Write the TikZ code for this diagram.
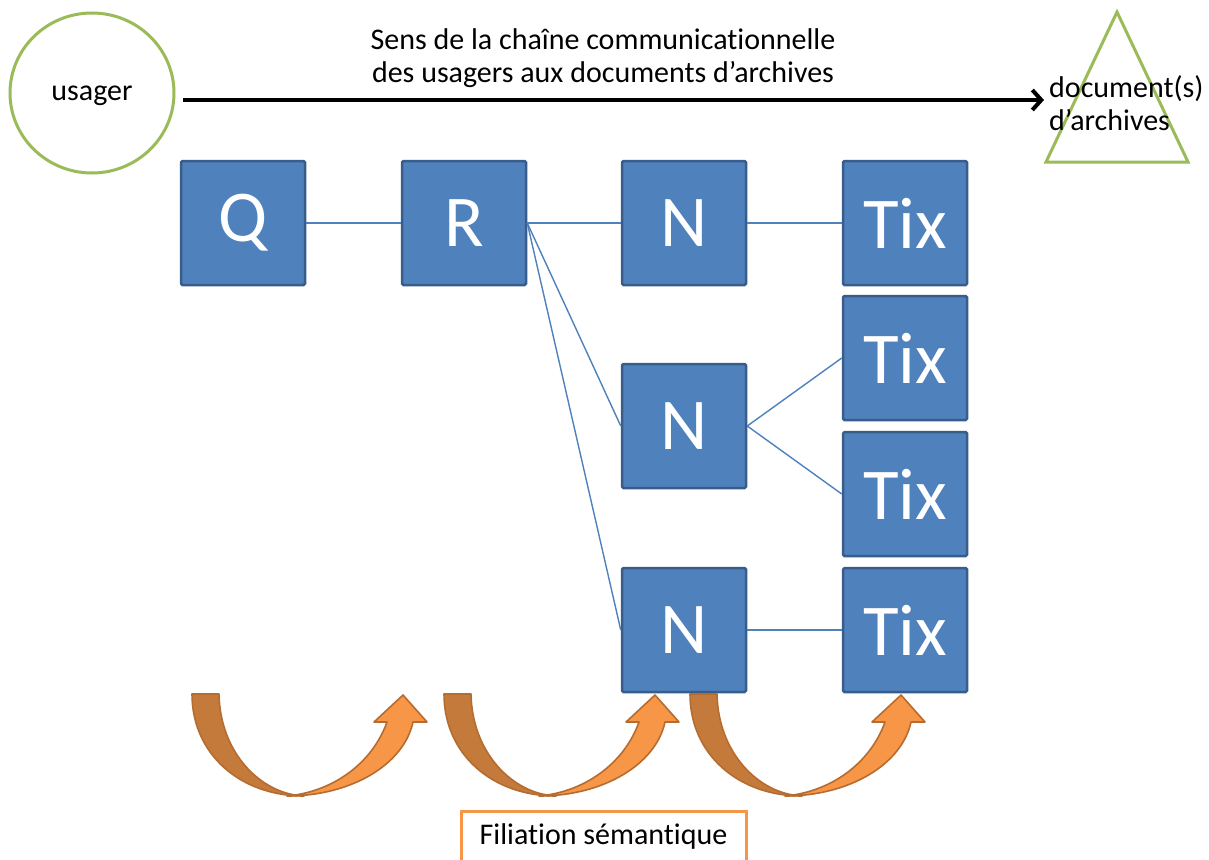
\documentclass[tikz,border=0pt]{standalone}
\usepackage{fontspec}
\setmainfont{Carlito}[Ligatures=NoCommon]
\usetikzlibrary{arrows.meta,shapes.geometric}
\definecolor{boxfill}{HTML}{4F81BD}
\definecolor{boxline}{HTML}{385D8A}
\definecolor{olive}{HTML}{9BBB59}
\definecolor{orlight}{HTML}{F79646}
\definecolor{ordark}{RGB}{196,122,58}
\definecolor{orline}{RGB}{182,108,49}
\tikzset{
  term/.style={draw=boxline, fill=boxfill, line width=2.5pt, rounded corners=1.5pt,
    minimum width=124pt, minimum height=124pt, inner sep=0pt, text=white,
    font=\fontsize{73}{80}\selectfont},
  link/.style={draw=boxfill, line width=1.4pt},
  label/.style={font=\fontsize{30}{33}\selectfont, inner sep=0pt},
  semarrow/.pic={
    % light rising half with the arrow head
    \draw[fill=orlight, draw=orline, line width=1.6pt, line join=round]
      (95,102) .. controls (160,102) and (212,70) .. (221,28)
      -- (235,28) -- (211,1) -- (182,28) -- (195,28)
      .. controls (180,70) and (140,98) .. (95,102) -- cycle;
    % dark descending half
    \draw[fill=ordark, draw=orline, line width=1.6pt, line join=round]
      (0,0) .. controls (0,60) and (48,102) .. (112,102)
      .. controls (68,100) and (28,58) .. (27,0) -- cycle;
  }
}
\begin{document}
\begin{tikzpicture}[x=1pt, y=-1pt]
\clip (0,0) rectangle (1209,859);
\fill[white] (0,0) rectangle (1209,859);

% actors of the chain
\node[draw=olive, line width=3pt, ellipse, minimum width=164pt, minimum height=160pt,
  label, inner sep=0pt, text depth=0pt] (usager) at (92,93) {usager};
\draw[olive, line width=3pt, line join=miter] (1117,12) -- (1188,162) -- (1046,162) -- cycle;
\node[label, anchor=west, align=left] (docs) at (1049,103) {document(s)\\d’archives};
\coordinate (arrowstart) at (183,100);
\coordinate (arrowend) at (1044,100);
\draw[line width=4.5pt, -{Straight Barb[length=9pt, width=20pt, line width=4pt]}]
  (arrowstart) -- (arrowend);
\node[label, align=center] (sens) at (603,58)
  {Sens de la chaîne communicationnelle\\des usagers aux documents d’archives};

% filiation tree
\node[term] (Q)  at (243,223) {Q};
\node[term] (R)  at (464,223) {R};
\node[term] (N1) at (684,223) {N};
\node[term] (N2) at (684,426) {N};
\node[term] (N3) at (684,630) {N};
\node[term] (T1) at (905,223) {Tix};
\node[term] (T2) at (905,358) {Tix};
\node[term] (T3) at (905,494) {Tix};
\node[term] (T4) at (905,630) {Tix};

\draw[link] (Q.east) -- (R.west);
\draw[link] (R.east) -- (N1.west);
\draw[link] (R.east) -- (N2.west);
\draw[link] (R.east) -- (N3.west);
\draw[link] (N1.east) -- (T1.west);
\draw[link] (N2.east) -- (T2.west);
\draw[link] (N2.east) -- (T3.west);
\draw[link] (N3.east) -- (T4.west);

% semantic filiation arrows
\pic at (192,694) {semarrow};
\pic at (444,694) {semarrow};
\pic at (690,694) {semarrow};

\node[draw=orlight, line width=3pt, minimum width=285pt, minimum height=50pt,
  label, inner sep=0pt] (fil) at (603.5,836) {Filiation sémantique};
\end{tikzpicture}
\end{document}
